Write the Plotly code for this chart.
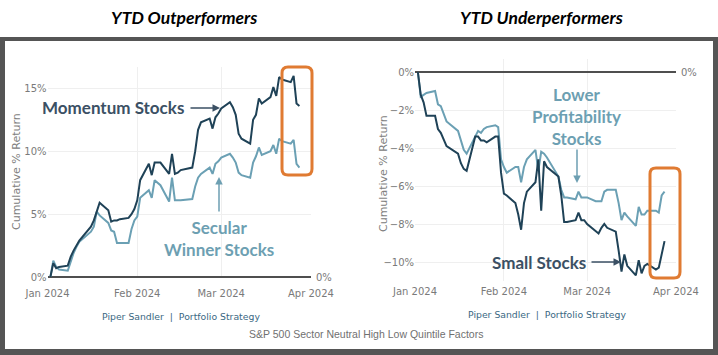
import plotly.graph_objects as go

W, H = 718, 355

# ---------------- data ----------------
left_dates = ["2024-01-02","2024-01-03","2024-01-04","2024-01-05","2024-01-08","2024-01-09","2024-01-10","2024-01-11","2024-01-12",
              "2024-01-16","2024-01-17","2024-01-18","2024-01-19","2024-01-22","2024-01-23","2024-01-24","2024-01-25","2024-01-26",
              "2024-01-29","2024-01-30","2024-01-31","2024-02-01","2024-02-02","2024-02-05","2024-02-06","2024-02-07","2024-02-08",
              "2024-02-09","2024-02-12","2024-02-13","2024-02-14","2024-02-15","2024-02-16","2024-02-20","2024-02-21","2024-02-22",
              "2024-02-23","2024-02-26","2024-02-27","2024-02-28","2024-02-29","2024-03-01","2024-03-04","2024-03-05","2024-03-06",
              "2024-03-07","2024-03-08","2024-03-11","2024-03-12","2024-03-13","2024-03-14","2024-03-15","2024-03-18","2024-03-19",
              "2024-03-20","2024-03-21","2024-03-22","2024-03-25","2024-03-26","2024-03-27","2024-03-28"]
momentum = [0.0,1.1,0.7,0.8,0.9,1.6,2.1,2.5,2.9,
            4.0,4.5,5.2,5.9,5.3,4.4,4.5,4.5,4.6,
            4.7,5.0,5.4,6.1,7.7,9.0,8.1,9.1,9.1,
            9.1,8.2,9.8,8.2,8.3,8.5,8.7,10.0,11.7,
            12.3,12.6,11.8,12.7,13.0,13.4,13.9,13.5,12.9,
            11.4,11.0,10.6,12.5,12.9,14.2,13.8,14.3,15.1,
            14.4,15.9,15.7,15.5,16.0,13.8,13.6]
secular = [0.0,1.3,0.8,0.6,0.5,1.2,1.9,2.4,2.8,
           3.6,4.0,5.2,4.9,4.3,3.7,3.6,2.7,2.7,
           2.7,3.8,4.5,4.8,6.3,6.9,6.3,7.7,7.5,
           7.3,6.0,7.9,6.1,6.1,6.1,6.2,7.2,7.9,
           8.2,8.7,8.2,9.0,9.2,9.5,9.8,9.5,9.1,
           8.3,8.1,7.9,9.1,9.6,10.3,9.7,10.0,10.5,
           9.8,11.0,10.8,10.6,10.9,9.0,8.7]

right_dates = left_dates
small = [0.0,-1.2,-1.6,-2.3,-2.3,-3.0,-3.2,-3.6,-3.9,
         -4.3,-4.8,-5.1,-5.2,-3.4,-3.4,-3.6,-3.6,-3.7,
         -3.4,-3.4,-5.3,-6.4,-6.5,-6.9,-7.5,-8.3,-6.9,
         -6.3,-5.8,-4.6,-7.3,-4.7,-5.0,-5.5,-6.5,-7.9,
         -7.9,-7.8,-7.4,-7.8,-7.8,-8.0,-8.4,-8.5,-8.2,
         -8.0,-8.2,-8.4,-9.4,-10.5,-9.6,-10.2,-10.7,-9.9,
         -10.6,-10.2,-10.1,-10.4,-10.3,-9.5,-8.9]
lowprof = [0.0,-1.3,-1.2,-1.1,-1.0,-1.7,-1.8,-2.2,-2.6,
           -3.1,-3.6,-4.1,-4.3,-3.4,-3.1,-3.2,-3.0,-2.9,
           -2.8,-2.9,-4.6,-5.0,-5.3,-5.0,-5.0,-5.8,-5.0,
           -4.6,-4.1,-5.2,-4.2,-4.3,-4.5,-5.5,-6.2,-6.6,
           -6.6,-6.7,-6.3,-6.6,-6.6,-6.6,-6.8,-6.8,-6.8,
           -6.3,-6.2,-6.2,-6.9,-7.8,-7.4,-7.6,-8.1,-7.1,
           -7.5,-7.5,-7.3,-7.3,-7.4,-6.5,-6.3]

left_ticks = [0, 5, 10, 15]
right_ticks = [0, -2, -4, -6, -8, -10]
x_ticks = ["2024-01-01", "2024-02-01", "2024-03-01", "2024-04-01"]
x_ticktext = ["Jan 2024", "Feb 2024", "Mar 2024", "Apr 2024"]

# ---------------- style ----------------
DARK = "#1f4257"
LIGHT = "#6ba0b4"
DARK_TXT = "#3b5064"
LIGHT_TXT = "#6d9fb2"
ORANGE = "#e07b32"
FRAME = "#555555"
TICK_FONT = dict(family="DejaVu Sans", size=10, color="#7a7a7a")

def px(x):
    return x / W

def py(y):
    return 1 - y / H

fig = go.Figure()
fig.add_trace(go.Scatter(x=left_dates, y=secular, mode="lines", line=dict(color=LIGHT, width=2),
                         xaxis="x", yaxis="y", showlegend=False, name="Secular Winner Stocks"))
fig.add_trace(go.Scatter(x=left_dates, y=momentum, mode="lines", line=dict(color=DARK, width=2),
                         xaxis="x", yaxis="y", showlegend=False, name="Momentum Stocks"))
fig.add_trace(go.Scatter(x=right_dates, y=lowprof, mode="lines", line=dict(color=LIGHT, width=2),
                         xaxis="x2", yaxis="y2", showlegend=False, name="Lower Profitability Stocks"))
fig.add_trace(go.Scatter(x=right_dates, y=small, mode="lines", line=dict(color=DARK, width=2),
                         xaxis="x2", yaxis="y2", showlegend=False, name="Small Stocks"))

common_x = dict(type="date", tickvals=x_ticks, ticktext=x_ticktext, tickfont=TICK_FONT,
                showgrid=True, gridcolor="#efefef", gridwidth=1, zeroline=False, showline=False,
                ticks="", range=["2024-01-01", "2024-04-01"], automargin=False)

fig.update_layout(
    template="none",
    width=W, height=H, autosize=False,
    margin=dict(l=0, r=0, t=0, b=0, pad=0),
    paper_bgcolor="white", plot_bgcolor="rgba(0,0,0,0)",
    showlegend=False,
    xaxis=dict(common_x, domain=[px(47.5), px(311)], anchor="y", ticklabelstandoff=9),
    yaxis=dict(domain=[py(277), py(67)], anchor="x", range=[0, 16.7], tickvals=left_ticks,
               ticktext=[f"{v}%" for v in left_ticks], tickfont=TICK_FONT,
               showgrid=True, gridcolor="#efefef", zeroline=True, zerolinecolor="#4f4f4f",
               zerolinewidth=2, showline=False, ticks="", automargin=False),
    xaxis2=dict(common_x, domain=[px(415), px(676)], anchor="y2", ticklabelstandoff=3),
    yaxis2=dict(domain=[py(281), py(58.7)], anchor="x2", range=[-11.0, 0.7], tickvals=right_ticks,
                ticktext=[f"{v}%".replace("-", "\u2212") for v in right_ticks], tickfont=TICK_FONT,
                showgrid=True, gridcolor="#efefef", zeroline=True, zerolinecolor="#4f4f4f",
                zerolinewidth=2, showline=False, ticks="", automargin=False),
)

shapes = []
# outer frame
shapes.append(dict(type="rect", xref="paper", yref="paper", x0=0, x1=1, y0=0, y1=py(37),
                   fillcolor=FRAME, line=dict(width=0), layer="below"))
shapes.append(dict(type="rect", xref="paper", yref="paper", x0=px(5), x1=px(713), y0=py(349), y1=py(41),
                   fillcolor="white", line=dict(width=0), layer="below"))

def rounded(x0, y0, x1, y1, r=6):
    X = lambda v: f"{px(v):.5f}"
    Y = lambda v: f"{py(v):.5f}"
    return (f"M {X(x0+r)},{Y(y0)} L {X(x1-r)},{Y(y0)} Q {X(x1)},{Y(y0)} {X(x1)},{Y(y0+r)} "
            f"L {X(x1)},{Y(y1-r)} Q {X(x1)},{Y(y1)} {X(x1-r)},{Y(y1)} "
            f"L {X(x0+r)},{Y(y1)} Q {X(x0)},{Y(y1)} {X(x0)},{Y(y1-r)} "
            f"L {X(x0)},{Y(y0+r)} Q {X(x0)},{Y(y0)} {X(x0+r)},{Y(y0)} Z")

shapes.append(dict(type="path", xref="paper", yref="paper", path=rounded(282, 67, 312, 175),
                   line=dict(color=ORANGE, width=3)))
shapes.append(dict(type="path", xref="paper", yref="paper", path=rounded(650, 168, 680, 278),
                   line=dict(color=ORANGE, width=3)))
fig.update_layout(shapes=shapes)

ann = []

def text_ann(text, x, y, font, **kw):
    d = dict(text=text, x=px(x), y=py(y), xref="paper", yref="paper", showarrow=False,
             xanchor="center", yanchor="middle", font=font)
    d.update(kw)
    ann.append(d)

def arrow_ann(x, y, ax, ay, color):
    ann.append(dict(text="", x=px(x), y=py(y), xref="paper", yref="paper", ax=ax, ay=ay,
                    showarrow=True, arrowhead=2, arrowsize=1, arrowwidth=1.5, arrowcolor=color))

TITLE_FONT = dict(family="Lato", size=17.5, color="black", weight="bold", style="italic")
text_ann("YTD Outperformers", 184, 17, TITLE_FONT)
text_ann("YTD Underperformers", 541, 17, TITLE_FONT)

# right-hand 0% labels
ann.append(dict(text="0%", x=px(314), y=0, xref="paper", yref="y", xanchor="left", yanchor="middle",
                showarrow=False, font=TICK_FONT))
ann.append(dict(text="0%", x=px(679), y=0, xref="paper", yref="y2", xanchor="left", yanchor="middle",
                showarrow=False, font=TICK_FONT))

# axis titles
AX_FONT = dict(family="DejaVu Sans", size=11, color="#808080")
text_ann("Cumulative % Return", 16, 172, AX_FONT, textangle=-90)
text_ann("Cumulative % Return", 383, 174, AX_FONT, textangle=-90)

LBL = dict(family="Lato", size=17, weight="bold")
text_ann("Momentum Stocks", 113, 107, dict(LBL, color=DARK_TXT))
arrow_ann(220, 108, -31, 0, DARK_TXT)

text_ann("Secular<br>Winner Stocks", 219, 238, dict(LBL, color=LIGHT_TXT), align="center")
arrow_ann(219, 177, 0, 36, LIGHT_TXT)

text_ann("Lower<br>Profitability<br>Stocks", 576, 116, dict(LBL, color=LIGHT_TXT), align="center")
arrow_ann(577, 183, 0, -35, LIGHT_TXT)

text_ann("Small Stocks", 539, 262, dict(LBL, color=DARK_TXT))
arrow_ann(621, 262, -31, 0, DARK_TXT)

SRC = dict(family="DejaVu Sans", size=9.3, color="#3a6883")
text_ann("Piper Sandler  |  Portfolio Strategy", 181, 316, SRC)
text_ann("Piper Sandler  |  Portfolio Strategy", 547, 314, SRC)
text_ann("S&P 500 Sector Neutral High Low Quintile Factors", 366, 334,
         dict(family="Liberation Sans", size=10.5, color="#707070"))

fig.update_layout(annotations=ann)
fig.write_html("out.html", config={"displayModeBar": False},
               post_script="document.body.style.margin='0';document.body.style.padding='0';")
